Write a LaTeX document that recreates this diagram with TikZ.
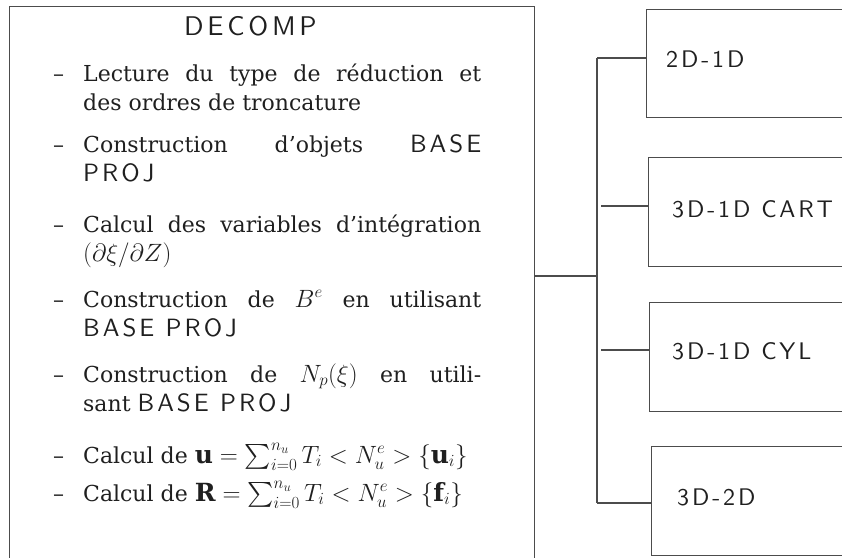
\RequirePackage{fix-cm}
\documentclass[tikz,border=0pt]{standalone}
\usepackage{exscale}
\usepackage{fontspec}
\setmainfont{DejaVu Serif}
\setsansfont{lmsans10-regular.otf}[LetterSpace=12]
\newfontfamily\titlefont{lmsans10-regular.otf}[LetterSpace=14]
\DeclareMathSizes{22}{25}{17}{13}
\definecolor{linegray}{gray}{0.3}
\definecolor{ink}{gray}{0.12}
\tikzset{
  frame/.style={draw=linegray, line width=1.1pt, inner sep=0pt, anchor=north west},
  conn/.style={draw=linegray, line width=1.1pt},
  itemtext/.style={anchor=base west, inner sep=0pt, text width=398pt, align=justify,
    font=\fontsize{22}{29.5}\selectfont, text=ink},
  boxlabel/.style={anchor=base west, inner sep=0pt, font=\sffamily\fontsize{24}{28}\selectfont, text=ink},
}
\newcommand{\dashitem}{\llap{\textendash\hspace{19pt}}}
\newcommand{\sfw}[1]{{\sffamily\fontsize{25}{29.5}\selectfont #1}}
\begin{document}
\begin{tikzpicture}[x=1pt, y=-1pt]
\useasboundingbox (0,0) rectangle (842,557);
\clip (0,0) rectangle (842,557);
% boxes
\node[frame, minimum width=525pt, minimum height=560pt] (decomp) at (9,6) {};
\node[frame, minimum width=214pt, minimum height=108pt] (b1) at (646,9) {};
\node[frame, minimum width=212pt, minimum height=109pt] (b2) at (648,157) {};
\node[frame, minimum width=211pt, minimum height=109pt] (b3) at (649,302) {};
\node[frame, minimum width=209pt, minimum height=109pt] (b4) at (651,446) {};
% junctions
\coordinate (jd) at (597,276);
\coordinate (j1) at (597,58);
\coordinate (j4) at (597,503);
\coordinate (s2) at (601,206);
\coordinate (s3) at (601,350);
\draw[conn] (decomp.east |- jd) -- (jd);
\draw[conn] (j1) -- (j4);
\draw[conn] (j1) -- (b1.west |- j1);
\draw[conn] (s2) -- (b2.west |- s2);
\draw[conn] (s3) -- (b3.west |- s3);
\draw[conn] (j4) -- (b4.west |- j4);
% box labels
\node[boxlabel] (l1) at (666,67) {2D-1D};
\node[boxlabel] (l2) at (672,217) {3D-1D CART};
\node[boxlabel] (l3) at (672,359) {3D-1D CYL};
\node[boxlabel] (l4) at (677,505) {3D-2D};
% left box text
\node[anchor=base west, inner sep=0pt, font=\titlefont\fontsize{27}{30}\selectfont, text=ink] (title) at (184,35) {DECOMP};
\node[itemtext] (i1) at (83,81) {\dashitem Lecture du type de réduction et\linebreak des ordres de troncature};
\node[itemtext] (i2) at (83,152) {\dashitem Construction d’objets \sfw{BASE}\linebreak \sfw{PROJ}};
\node[itemtext] (i3) at (83,232) {\dashitem Calcul des variables d’intégration\linebreak $(\partial\xi/\partial Z)$};
\node[itemtext] (i4) at (83,307) {\dashitem Construction de $B^e$ en utilisant\linebreak \sfw{BASE PROJ}};
\node[itemtext] (i5) at (83,382) {\dashitem Construction de $N_p(\xi)$ en utili-\linebreak sant \sfw{BASE PROJ}};
\node[itemtext] (i6) at (83,463) {\dashitem Calcul de $\mathbf{u}=\sum_{i=0}^{n_u} T_i < N_u^e > \{\mathbf{u}_i\}$};
\node[itemtext] (i7) at (83,501) {\dashitem Calcul de $\mathbf{R}=\sum_{i=0}^{n_u} T_i < N_u^e > \{\mathbf{f}_i\}$};
\end{tikzpicture}
\end{document}
